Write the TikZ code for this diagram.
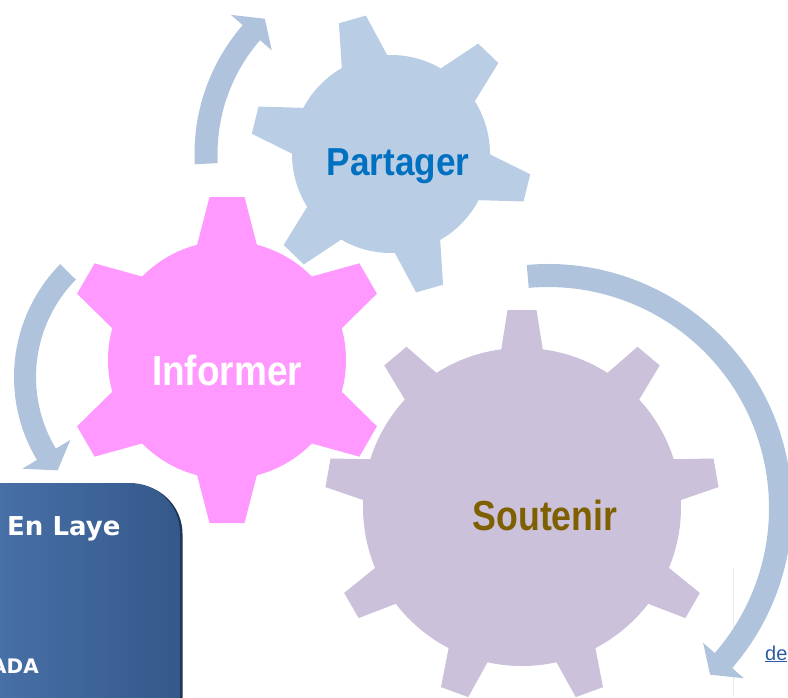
\documentclass[tikz,border=0pt]{standalone}
\usepackage{graphicx}
\usepackage{fontspec}
\setmainfont{Liberation Sans}
\newfontfamily\panelfont{DejaVu Sans}
\definecolor{partagerc}{HTML}{B9CDE5}
\definecolor{informerc}{HTML}{FF99FF}
\definecolor{soutenirc}{HTML}{CCC1DA}
\definecolor{arrowc}{HTML}{B0C3DD}
\definecolor{ptext}{HTML}{0070C0}
\definecolor{stext}{HTML}{7F6000}
\definecolor{boxl}{RGB}{78,120,176}
\definecolor{boxr}{RGB}{52,88,138}
\definecolor{boxsh}{RGB}{30,52,84}
\definecolor{linkc}{HTML}{2E5C9E}
% #1 centre, #2 body radius, #3 tip radius, #4 half width at base, #5 half width at tip, #6 teeth, #7 offset, #8 style
\newcommand\geardraw[8]{%
  \path[#8] (#1) circle[radius=#2];
  \foreach \k in {1,...,#6}{%
    \path[#8, shift={(#1)}, rotate=#7+360/#6*\k] (#2-12,-#4) -- (#3,-#5) -- (#3,#5) -- (#2-12,#4) -- cycle;
  }%
}
\tikzset{
  halo/.style={draw=white, line width=5pt, line join=round},
  lbl/.style={anchor=base, inner sep=0pt, font=\bfseries\fontsize{42}{42}\selectfont},
  bandarrow/.style={fill=arrowc},
}
\begin{document}
\begin{tikzpicture}[x=1pt,y=1pt]
\useasboundingbox (0,0) rectangle (788,-697);

% faint vertical rule
\draw[black!8, line width=0.8pt] (733,-568) -- (733,-697);

% arrows
\coordinate (c1) at (391,-154);
\coordinate (c2) at (175,-377);
\coordinate (c3) at (548,-508);
\fill[bandarrow] ([shift={(c1)}]183:196.5) arc[start angle=183, end angle=139, radius=196.5]
  -- ([shift={(c1)}]139:212) -- ([shift={(c1)}]133:185) -- ([shift={(c1)}]139:158)
  -- ([shift={(c1)}]139:173.5) arc[start angle=139, end angle=183, radius=173.5] -- cycle;
\fill[bandarrow] ([shift={(c2)}]135.5:161) arc[start angle=135.5, end angle=211, radius=161]
  -- ([shift={(c2)}]211:178) -- ([shift={(c2)}]218.5:150) -- ([shift={(c2)}]211:122)
  -- ([shift={(c2)}]211:139) arc[start angle=211, end angle=135.5, radius=139] -- cycle;
\fill[bandarrow] ([shift={(c3)}]95:244) arc[start angle=95, end angle=-41, radius=244]
  -- ([shift={(c3)}]-41:259.5) -- ([shift={(c3)}]-45.8:232.5) -- ([shift={(c3)}]-41:205.5)
  -- ([shift={(c3)}]-41:221) arc[start angle=-41, end angle=95, radius=221] -- cycle;

% gears
\geardraw{391,-154}{99}{140}{25.6}{14}{6}{-14}{halo}
\geardraw{391,-154}{99}{140}{25.6}{14}{6}{-14}{fill=partagerc}
\geardraw{522,-507}{159}{197}{22.4}{14.5}{9}{10}{halo}
\geardraw{522,-507}{159}{197}{22.4}{14.5}{9}{10}{fill=soutenirc}
\geardraw{227,-360}{119}{163}{32}{17.5}{6}{30}{halo}
\geardraw{227,-360}{119}{163}{32}{17.5}{6}{30}{fill=informerc}

% labels
\node[lbl, text=ptext, font=\bfseries\fontsize{39}{39}\selectfont] (partager) at (398,-175) {\scalebox{0.9}[1]{Partager}};
\node[lbl, text=white] (informer) at (227,-385) {\scalebox{0.88}[1]{Informer}};
\node[lbl, text=stext] (soutenir) at (545,-530) {\scalebox{0.85}[1]{Soutenir}};

% bottom-left panel
\fill[boxsh, rounded corners=50pt] (-60,-484) rectangle (182.5,-780);
\shade[left color=boxl, right color=boxr, rounded corners=50pt] (-60,-483) rectangle (180,-780);
\node[anchor=base west, inner sep=0pt, text=white, font=\panelfont\bfseries\fontsize{26}{26}\selectfont] (enlaye) at (7,-535) {En Laye};
\node[anchor=base east, inner sep=0pt, text=white, font=\panelfont\bfseries\fontsize{20}{20}\selectfont] (ada) at (39,-673) {ADA};

% link text
\node[anchor=base west, inner sep=0pt, text=linkc, font=\fontsize{20}{20}\selectfont] (de) at (765,-660) {\underline{de}};
\end{tikzpicture}
\end{document}
